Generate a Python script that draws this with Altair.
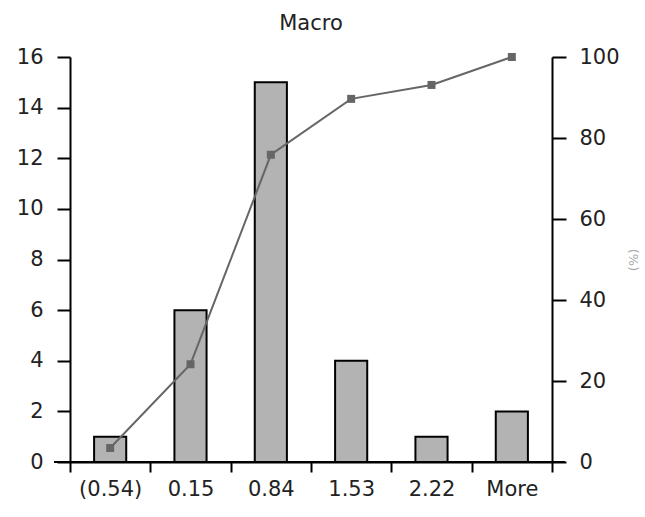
import altair as alt
import pandas as pd

bins = ["(0.54)", "0.15", "0.84", "1.53", "2.22", "More"]
freq = [1, 6, 15, 4, 1, 2]
cum_pct = [3.45, 24.14, 75.86, 89.66, 93.10, 100.0]

df = pd.DataFrame({"bin": bins, "freq": freq, "cum": cum_pct, "idx": list(range(len(bins)))})

W, H = 482, 405
FONT = "DejaVu Sans"
FS = 21
N = len(bins)

xscale = alt.Scale(domain=[-0.5, N - 0.5], nice=False, zero=False)
label_expr = "[" + ",".join("'%s'" % b for b in bins) + "][datum.value]"

label_axis = alt.Axis(
    orient="bottom", title=None, values=list(range(N)), labelExpr=label_expr,
    ticks=False, domain=False, grid=False, labelFontSize=FS, labelColor="#222222",
    labelPadding=16, labelFont=FONT, labelFlush=False, labelOverlap=False,
)
tick_axis = alt.Axis(
    orient="bottom", title=None, values=[i - 0.5 for i in range(N + 1)], labels=False,
    grid=False, tickSize=10, tickWidth=2, domainWidth=2, domainColor="black",
    tickColor="black",
)

base = alt.Chart(df)

bars = base.transform_calculate(
    x0="datum.idx - 0.2", x1="datum.idx + 0.2"
).mark_rect(color="#b3b3b3", stroke="black", strokeWidth=2).encode(
    x=alt.X("x0:Q", scale=xscale, axis=label_axis),
    x2="x1:Q",
    y=alt.Y(
        "freq:Q",
        scale=alt.Scale(domain=[0, 16], nice=False),
        axis=alt.Axis(
            title=None, values=[0, 2, 4, 6, 8, 10, 12, 14, 16], grid=False,
            tickSize=13, tickWidth=2, domainWidth=2, domainColor="black", tickColor="black",
            labelFontSize=FS, labelColor="#222222", labelPadding=14, labelFont=FONT,
        ),
    ),
    y2=alt.datum(0),
)

ticks_layer = base.mark_point(opacity=0).encode(
    x=alt.X("idx:Q", scale=xscale, axis=tick_axis),
    y=alt.value(0),
)

baseline = base.mark_rule(color="black", strokeWidth=2).encode(
    x=alt.value(-16), x2=alt.value(W + 13), y=alt.value(H)
)

line = base.mark_line(
    color="#666666", strokeWidth=2,
    point=alt.OverlayMarkDef(shape="square", size=64, filled=True, color="#666666"),
).encode(
    x=alt.X("idx:Q", scale=xscale, axis=None),
    y=alt.Y(
        "cum:Q",
        scale=alt.Scale(domain=[0, 100], nice=False),
        axis=alt.Axis(
            orient="right", title="(%)", values=[0, 20, 40, 60, 80, 100], grid=False,
            tickSize=14, tickWidth=2, domainWidth=2, domainColor="black", tickColor="black",
            labelFontSize=FS, labelColor="#222222", labelPadding=13, labelFont=FONT,
            titleFontSize=13, titleFontWeight="normal", titleColor="#aaaaaa",
            titleFont=FONT, titlePadding=6,
        ),
    ),
)

left = alt.layer(bars, ticks_layer, baseline).resolve_axis(x="independent")

chart = (
    alt.layer(left, line)
    .resolve_scale(y="independent")
    .properties(
        width=W, height=H,
        title=alt.TitleParams("Macro", fontSize=FS, fontWeight="normal", font=FONT,
                              color="#222222", offset=12, anchor="middle"),
        autosize=alt.AutoSizeParams(type="none"),
        padding={"left": 70, "top": 57, "right": 93, "bottom": 55},
        background="white",
    )
    .configure_view(stroke=None)
)

chart.save("out.html", embed_options={"renderer": "svg", "actions": False})
